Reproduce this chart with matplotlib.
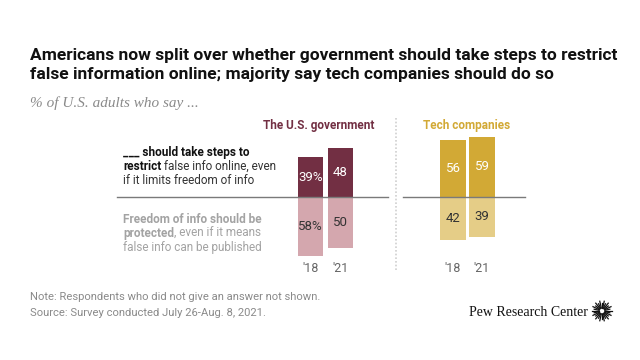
import matplotlib
matplotlib.use("Agg")
import matplotlib.pyplot as plt
from matplotlib.text import Annotation
import numpy as np

# ---- data ----
years = ["'18", "'21"]
gov_restrict = [39, 48]
gov_protect = [58, 50]
tech_restrict = [56, 59]
tech_protect = [42, 39]
gov_restrict_labels = ["39%", "48"]
gov_protect_labels = ["58%", "50"]
tech_restrict_labels = ["56", "59"]
tech_protect_labels = ["42", "39"]

title = ("Americans now split over whether government should take steps to restrict\n"
         "false information online; majority say tech companies should do so")
subtitle = "% of U.S. adults who say ..."
note = "Note: Respondents who did not give an answer not shown."
source = "Source: Survey conducted July 26-Aug. 8, 2021."

GOV_DARK = "#722F43"
GOV_LIGHT = "#D4A7AE"
TECH_DARK = "#D2A935"
TECH_LIGHT = "#E5CD87"
BODY = ["Roboto", "DejaVu Sans"]

W, H = 640, 360
fig = plt.figure(figsize=(6.4, 3.6), dpi=100)
fig.patch.set_facecolor("white")

def fx(px):
    return px / W

def fy(py):
    return 1 - py / H

# chart axes: x in pixels, y in percent; baseline at y=197px
PX_PER_PCT = 1.02
BASE = 197
ax = fig.add_axes([0, 0, 1, 1])
ax.set_xlim(0, W)
ax.set_ylim(-(H - BASE) / PX_PER_PCT, BASE / PX_PER_PCT)
ax.axis("off")

gov_x = [310.5, 340.5]
tech_x = [453, 482]
bw = 25.5

ax.bar(gov_x, gov_restrict, width=bw, color=GOV_DARK)
ax.bar(gov_x, [-v for v in gov_protect], width=bw, color=GOV_LIGHT)
ax.bar(tech_x, tech_restrict, width=bw, color=TECH_DARK)
ax.bar(tech_x, [-v for v in tech_protect], width=bw, color=TECH_LIGHT)

lblfont = dict(fontsize=9.5, family=BODY, ha="center", va="center")
for x, v, t in zip(gov_x, gov_restrict, gov_restrict_labels):
    ax.text(x, v / 2, t, color="white", **lblfont)
for x, v, t in zip(gov_x, gov_protect, gov_protect_labels):
    ax.text(x, -v / 2, t, color="#333333", **lblfont)
for x, v, t in zip(tech_x, tech_restrict, tech_restrict_labels):
    ax.text(x, v / 2, t, color="white", **lblfont)
for x, v, t in zip(tech_x, tech_protect, tech_protect_labels):
    ax.text(x, -v / 2, t, color="#333333", **lblfont)

# baselines
ax.plot([117, 388], [0, 0], color="#7a7a7a", lw=1)
ax.plot([403, 525], [0, 0], color="#7a7a7a", lw=1)

# dotted separator
fig.add_artist(plt.Line2D([fx(396), fx(396)], [fy(118), fy(272)], color="#cfcfcf",
                          lw=1.2, linestyle=(0, (1, 1.2))))

# year labels
ylab_y = -(268 - BASE) / PX_PER_PCT
for x, yr in zip(gov_x + tech_x, years + years):
    ax.text(x, ylab_y, yr, ha="center", va="center", fontsize=9, family=BODY,
            color="#666666")

# group headers
fig.text(fx(319), fy(125), "The U.S. government", ha="center", va="center",
         fontsize=8.5, fontweight="bold", family=BODY, color=GOV_DARK)
fig.text(fx(467), fy(125), "Tech companies", ha="center", va="center",
         fontsize=8.5, fontweight="bold", family=BODY, color=TECH_DARK)

# title
fig.text(fx(30), fy(65), title, ha="left", va="center", fontsize=12.5,
         fontweight="bold", family=["Liberation Sans Narrow", "Roboto", "DejaVu Sans"],
         linespacing=1.3, color="#111111")
fig.text(fx(30), fy(103), subtitle, ha="left", va="center", fontsize=11,
         style="italic", family=["Liberation Serif", "DejaVu Serif"], color="#8a8a8a")

# left labels with mixed weight
def rich(x, y, parts, size=8.5):
    prev = None
    for txt, weight, col in parts:
        if prev is None:
            prev = fig.text(fx(x), fy(y), txt, ha="left", va="bottom", fontsize=size,
                            fontweight=weight, color=col, family=BODY)
        else:
            a = Annotation(txt, xy=(1, 0), xycoords=prev, ha="left", va="bottom",
                           fontsize=size, fontweight=weight, color=col, family=BODY)
            fig.add_artist(a)
            prev = a

BLK = "#111111"
GRY = "#a3a3a3"
rich(123, 159, [("___ should take steps to", "bold", BLK)])
rich(123, 173, [("restrict", "bold", BLK), (" false info online, even", "normal", "#333333")])
rich(123, 187, [("if it limits freedom of info", "normal", "#333333")])
rich(123, 226, [("Freedom of info should be", "bold", GRY)])
rich(123, 240, [("protected", "bold", GRY), (", even if it means", "normal", GRY)])
rich(123, 254, [("false info can be published", "normal", GRY)])

# footer
fig.text(fx(30), fy(297), note, ha="left", va="center", fontsize=8.1, family=BODY,
         color="#8a8a8a")
fig.text(fx(30), fy(313), source, ha="left", va="center", fontsize=8.1, family=BODY,
         color="#8a8a8a")
fig.text(fx(588), fy(312), "Pew Research Center", ha="right", va="center", fontsize=10,
         family=["Liberation Serif", "DejaVu Serif"], color="#111111")

# logo sunburst
cx, cy = 602, 311
n = 28
for i in range(n):
    ang = 2 * np.pi * i / n
    r0, r1 = 3.0, 10.0 if i % 2 == 0 else 8.0
    fig.add_artist(plt.Line2D([fx(cx + r0 * np.cos(ang)), fx(cx + r1 * np.cos(ang))],
                              [fy(cy + r0 * np.sin(ang)), fy(cy + r1 * np.sin(ang))],
                              color="#111111", lw=0.9))

fig.savefig("out.png", dpi=100, facecolor="white")
